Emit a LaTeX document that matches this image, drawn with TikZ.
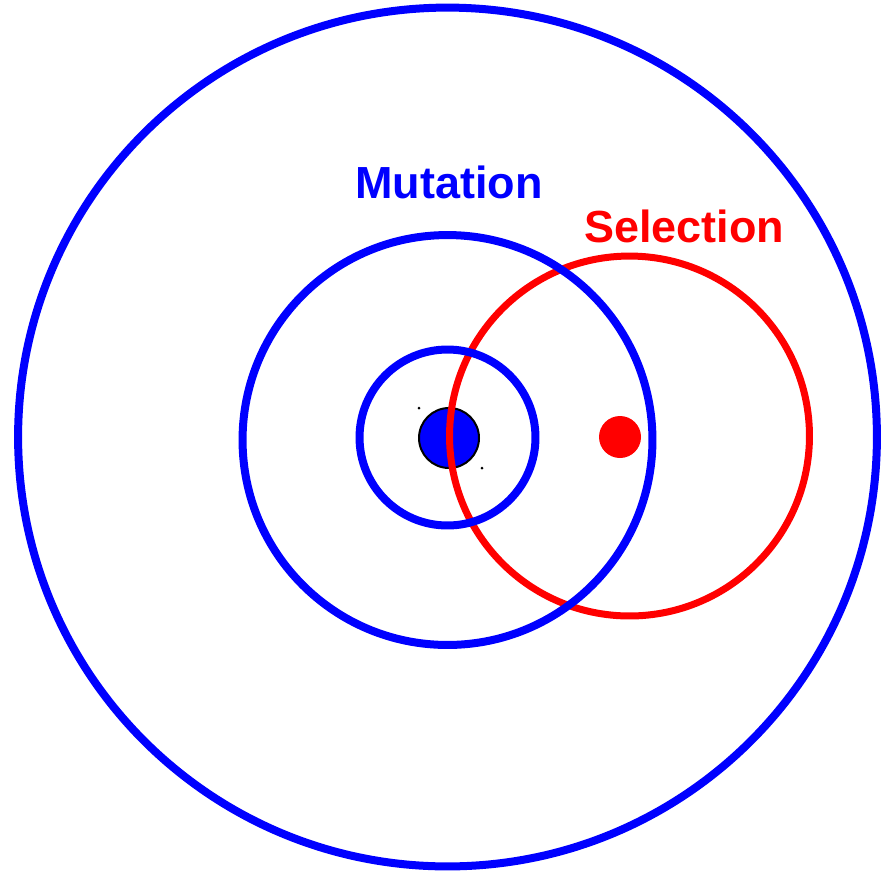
\documentclass[tikz,border=0pt]{standalone}
\usepackage{fontspec}
\setmainfont{Liberation Sans}
\usepackage{tikz}
\usetikzlibrary{positioning,backgrounds}
\definecolor{mutblue}{HTML}{0000FF}
\definecolor{selred}{HTML}{FF0000}
\tikzset{
  % ringar
  ring/.style={circle,draw=mutblue,line width=0.16cm,inner sep=0pt,
               minimum size=#1},
  selring/.style={circle,draw=selred,line width=0.14cm,inner sep=0pt,
               minimum size=#1},
  % prickar
  startdot/.style={circle,fill=mutblue,draw=black,line width=0.04cm,
               inner sep=0pt,minimum size=1.2cm},
  goaldot/.style={circle,fill=selred,inner sep=0pt,minimum size=0.84cm},
  speck/.style={circle,fill=black,inner sep=0pt,minimum size=0.06cm},
  lbl/.style={font=\fontsize{25.6}{30}\selectfont\bfseries,inner sep=0pt,
              anchor=base},
}
\begin{document}
\begin{tikzpicture}[x=0.02cm,y=-0.02cm]
  \useasboundingbox (0,0) rectangle (885,877);
  \node[startdot] (start) at (449,438) {};
  \node[speck] (s1) at (419,408) {};
  \node[speck] (s2) at (482,468) {};
  \node[selring=7.2cm] (sel) at (629.5,436) {};
  \node[goaldot] (goal) at (620,437) {};
  \node[ring=3.52cm] (inner) at (447.5,437.5) {};
  \node[ring=8.2cm] (middle) at (447.5,440) {};
  \node[ring=17.18cm] (outer) at (447.5,437) {};
  \node[lbl,text=mutblue] (mut) at (449,198) {Mutation};
  \node[lbl,text=selred] (seltext) at (684,242) {Selection};
\end{tikzpicture}
\end{document}
